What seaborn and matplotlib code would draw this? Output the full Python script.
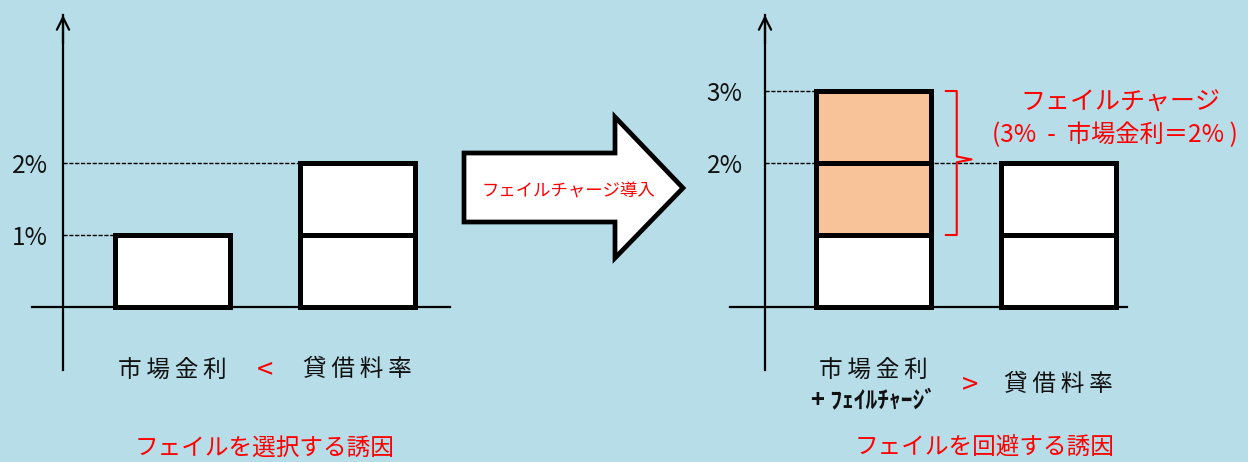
import numpy as np
import pandas as pd
import matplotlib.pyplot as plt
from matplotlib.patches import Polygon
import seaborn as sns

sns.set_style("white")
plt.rcParams['font.family'] = ['Noto Sans CJK JP', 'DejaVu Sans']

BG = "#B7DDE8"
ORANGE = "#F8C398"
RED = "#FF0000"

# left panel: before the fail charge (%)
left_cats = ["市場金利", "貸借料率"]
left_base = [1, 2]
left_charge = [0, 0]
left_ticks = [1, 2]
left_ticklabels = ["1%", "2%"]

# right panel: after the fail charge (%)
right_cats = ["市場金利+フェイルチャージ", "貸借料率"]
right_base = [1, 2]
right_charge = [2, 0]
right_ticks = [2, 3]
right_ticklabels = ["2%", "3%"]

W, H = 1248, 462
BAR_W = 0.62
fig = plt.figure(figsize=(W / 100, H / 100), dpi=100)
fig.patch.set_facecolor(BG)


def segments(cats, base, charge):
    # one row per 1% box, top of box in "top"
    rows = []
    for c, b, f in zip(cats, base, charge):
        for k in range(int(b)):
            rows.append((c, k + 1, "base"))
        for k in range(int(f)):
            rows.append((c, b + k + 1, "charge"))
    return pd.DataFrame(rows, columns=["cat", "top", "fill"])


def panel(x0, x1, y_top, y_bot, cx0, zero_px, axis_px, cats, base, charge, ticks, ticklabels, pad):
    ax = fig.add_axes([x0 / W, 1 - y_bot / H, (x1 - x0) / W, (y_bot - y_top) / H])
    ax.set_facecolor("none")
    df = segments(cats, base, charge)
    # draw tallest boxes first so the lower boxes sit on top of them
    for top in sorted(df["top"].unique(), reverse=True):
        sub = df[df["top"] == top]
        sns.barplot(data=sub, x="cat", y="top", hue="fill", order=cats,
                    hue_order=["base", "charge"],
                    palette={"base": "white", "charge": ORANGE},
                    dodge=False, width=BAR_W, saturation=1,
                    edgecolor="black", linewidth=3.6, errorbar=None,
                    legend=False, ax=ax, zorder=3)
    step, unit = 185, 72
    ax.set_xlim((x0 - cx0) / step, (x1 - cx0) / step)
    ymin, ymax = -(y_bot - zero_px) / unit, (zero_px - y_top) / unit
    ax.set_ylim(ymin, ymax)
    xa = (axis_px - cx0) / step

    ax.set_xlabel("")
    ax.set_ylabel("")
    ax.set_xticks([])
    ax.set_yticks(ticks, ticklabels)
    ax.tick_params(axis="y", length=0, pad=pad, labelsize=17.5, labelcolor="#111111")
    for s in ["top", "right"]:
        ax.spines[s].set_visible(False)
    ax.spines["left"].set_position(("data", xa))
    ax.spines["bottom"].set_position(("data", 0))
    for s in ["left", "bottom"]:
        ax.spines[s].set_linewidth(1.6)
        ax.spines[s].set_color("black")
    ax.annotate("", xy=(xa, ymax), xytext=(xa, ymax - 0.4),
                arrowprops=dict(arrowstyle="->", lw=1.6, color="black",
                                mutation_scale=22, shrinkA=0, shrinkB=0),
                annotation_clip=False)

    # dashed guides from the axis to each bar top
    totals = [b + f for b, f in zip(base, charge)]
    for i, t in enumerate(totals):
        ax.hlines(t, xa, i - BAR_W / 2, colors="black", linestyles=(0, (3, 1.2)),
                  lw=1, zorder=1)
    return ax, xa


axL, _ = panel(32, 450, 15, 370, 172.5, 307, 63, left_cats, left_base, left_charge,
               left_ticks, left_ticklabels, 11)
axR, _ = panel(730, 1127, 15, 370, 873.5, 307, 765, right_cats, right_base, right_charge,
               right_ticks, right_ticklabels, 16)

# category labels
txt = dict(fontsize=17, ha="center", va="center", color="#111111")
axL.text(0, -0.875, "市\u2009場\u2009金\u2009利", **txt)
axL.text(1, -0.875, "貸\u2009借\u2009料\u2009率", **txt)
axL.text(0.5, -0.875, "<", fontsize=21, ha="center", va="center", color=RED)

axR.text(0, -0.875, "市\u2009場\u2009金\u2009利", **txt)
axR.text(0, -1.29, "+ ﾌｪｲﾙﾁｬｰｼﾞ", fontsize=17, ha="center", va="center",
         color="#111111", fontweight="bold")
axR.text(1, -1.083, "貸\u2009借\u2009料\u2009率", **txt)
axR.text(0.52, -1.083, ">", fontsize=21, ha="center", va="center", color=RED)

# bracket over the fail charge part
b0, b1 = right_base[0], right_base[0] + right_charge[0]
xr = BAR_W / 2
xb = xr + 0.14
mid = (b0 + b1) / 2 + 0.05
axR.plot([xr + 0.08, xb, xb, xb + 0.08, xb, xb, xr + 0.08],
         [b1, b1, mid + 0.04, mid, mid - 0.04, b0, b0],
         color=RED, lw=1.5, zorder=4, clip_on=False)

# overlay in pixel coordinates for the block arrow and captions
ov = fig.add_axes([0, 0, 1, 1])
ov.set_xlim(0, W)
ov.set_ylim(H, 0)
ov.axis("off")

arrow = Polygon([(464, 153), (615, 153), (615, 117), (683, 188),
                 (615, 258), (615, 222), (464, 222)],
                closed=True, facecolor="white", edgecolor="black", lw=3.4,
                joinstyle="miter")
ov.add_patch(arrow)
ov.text(568, 191, "フェイルチャージ導入", fontsize=12.5, color=RED, ha="center", va="center")

ov.text(1120, 103, "フェイルチャージ", fontsize=18, color=RED, ha="center", va="center")
ov.text(1115, 135, "(3%  -  市場金利＝2% )", fontsize=17.5, color=RED, ha="center", va="center")

ov.text(265, 437, "フェイルを選択する誘因", fontsize=17, color=RED, ha="center", va="top")
ov.text(985, 437, "フェイルを回避する誘因", fontsize=17, color=RED, ha="center", va="top")

fig.savefig("out.png", dpi=100, facecolor=BG)
